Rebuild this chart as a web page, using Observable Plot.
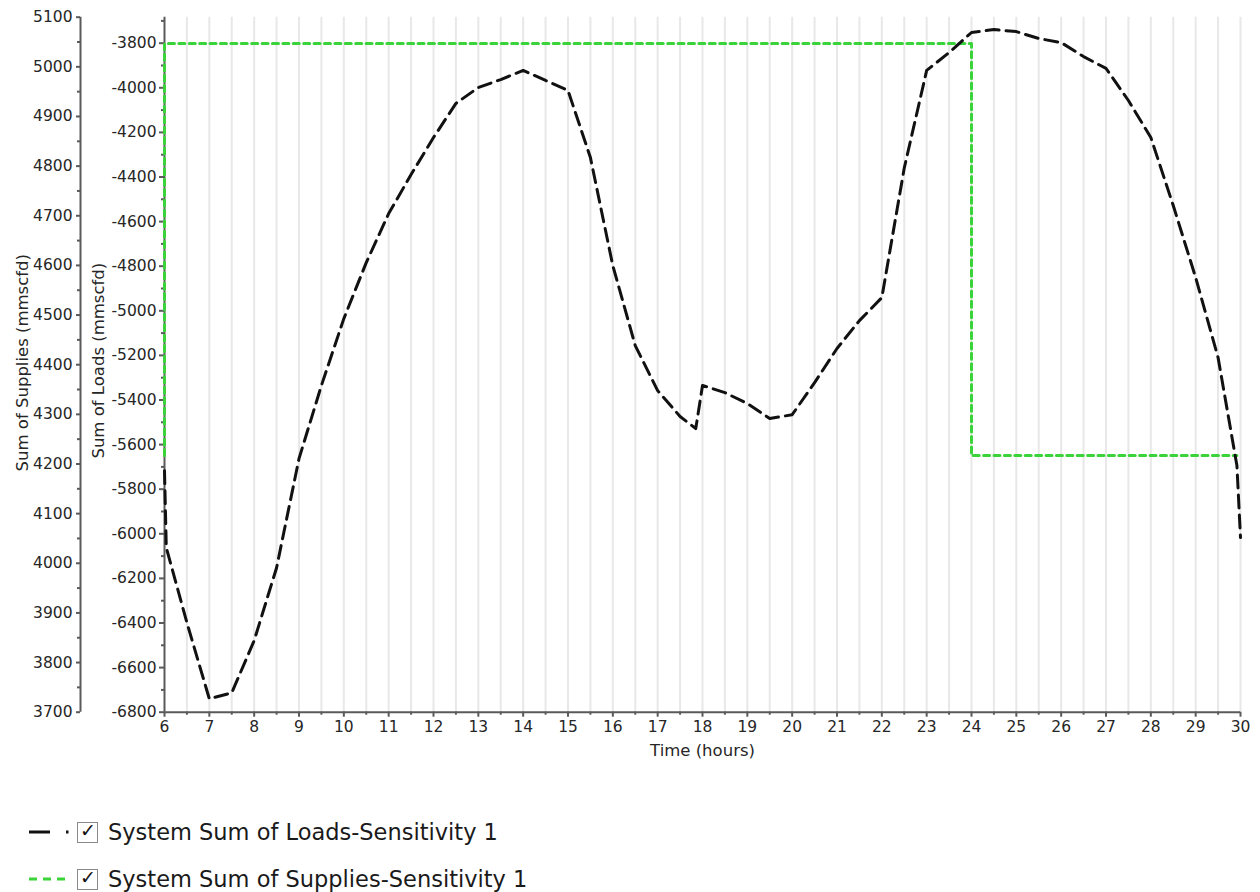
<!DOCTYPE html>
<html>
<head>
<meta charset="utf-8">
<script src="https://cdn.jsdelivr.net/npm/d3@7"></script>
<script src="https://cdn.jsdelivr.net/npm/@observablehq/plot@0.6"></script>
<style>
  html, body { margin: 0; padding: 0; background: #fff; }
  body { width: 1260px; height: 892px; position: relative; overflow: hidden; font-family: "DejaVu Sans", sans-serif; }
  #chart { position: absolute; left: 0; top: 0; }
  .leg { position: absolute; left: 0; height: 30px; display: flex; align-items: center; font-size: 22.5px; color: #1a1a1a; white-space: nowrap; }
  .leg svg { margin-left: 29px; }
  .box { width: 19px; height: 19px; border: 1px solid #8a8a8a; margin-left: 8px; margin-right: 10px; position: relative; box-sizing: content-box; background: #fff; }
  .box span { position: absolute; left: 2px; top: -4px; font-size: 19px; font-weight: bold; color: #111; }
</style>
</head>
<body>
<div id="chart"></div>
<div class="leg" style="top:817px">
  <svg width="40" height="10"><line x1="0" y1="5" x2="21" y2="5" stroke="#111" stroke-width="3"/><line x1="37" y1="5" x2="39.5" y2="5" stroke="#111" stroke-width="3"/></svg>
  <div class="box"><span>✓</span></div>
  <div>System Sum of Loads-Sensitivity 1</div>
</div>
<div class="leg" style="top:864px">
  <svg width="40" height="10"><line x1="0" y1="5" x2="37" y2="5" stroke="#3ad43a" stroke-width="3" stroke-dasharray="8,6"/></svg>
  <div class="box"><span>✓</span></div>
  <div>System Sum of Supplies-Sensitivity 1</div>
</div>
<script>
// ---- data ----
const loadHours = [6, 6.04, 6.5, 7, 7.5, 8, 8.5, 9, 9.5, 10, 10.5, 11, 11.5, 12, 12.5, 13, 13.5, 14, 14.5, 15,
  15.5, 16, 16.5, 17, 17.5, 17.85, 18, 18.5, 19, 19.5, 20, 20.5, 21, 21.5, 22, 22.5, 23, 23.5, 24, 24.5,
  25, 25.5, 26, 26.5, 27, 27.5, 28, 28.5, 29, 29.5, 29.92, 30];
const loadValues = [-5717, -6062, -6399, -6740, -6713, -6479, -6152, -5663, -5335, -5035, -4784, -4564, -4389, -4223, -4070, -3999, -3963, -3922, -3967, -4012,
  -4313, -4798, -5156, -5358, -5474, -5528, -5335, -5367, -5416, -5483, -5466, -5322, -5169, -5044, -4941, -4360, -3922, -3842, -3752, -3739,
  -3748, -3779, -3797, -3860, -3913, -4057, -4223, -4528, -4851, -5210, -5694, -6017];
const supplyHours = [6, 6, 24, 24, 29.92];
const supplyValues = [4217, 5047, 5047, 4217, 4217];

const xTicks = [6, 7, 8, 9, 10, 11, 12, 13, 14, 15, 16, 17, 18, 19, 20, 21, 22, 23, 24, 25, 26, 27, 28, 29, 30];
const xMinorTicks = [6.5, 7.5, 8.5, 9.5, 10.5, 11.5, 12.5, 13.5, 14.5, 15.5, 16.5, 17.5, 18.5, 19.5, 20.5, 21.5, 22.5, 23.5, 24.5, 25.5, 26.5, 27.5, 28.5, 29.5];
const gridHours = xTicks.concat(xMinorTicks).filter(d => d > 6);
const loadTicks = [-6800, -6600, -6400, -6200, -6000, -5800, -5600, -5400, -5200, -5000, -4800, -4600, -4400, -4200, -4000, -3800];
const loadMinorTicks = [-6700, -6500, -6300, -6100, -5900, -5700, -5500, -5300, -5100, -4900, -4700, -4500, -4300, -4100, -3900, -3700];
const supplyTicks = [3700, 3800, 3900, 4000, 4100, 4200, 4300, 4400, 4500, 4600, 4700, 4800, 4900, 5000, 5100];
const supplyMinorTicks = [3750, 3850, 3950, 4050, 4150, 4250, 4350, 4450, 4550, 4650, 4750, 4850, 4950, 5050];

const loadDomain = [-6800, -3683.4];
const supplyDomain = [3700, 5100];
// map the secondary (supplies) axis onto the primary (loads) scale
const s2l = d3.scaleLinear().domain(supplyDomain).range(loadDomain);

const loads = loadHours.map((h, i) => ({hour: h, value: loadValues[i]}));
const supplies = supplyHours.map((h, i) => ({hour: h, value: s2l(supplyValues[i])}));

const axisColor = "#5a5a5a";
const textColor = "#262626";
const supplyOffset = -84;

const chart = Plot.plot({
  width: 1260,
  height: 770,
  marginLeft: 164,
  marginRight: 20,
  marginTop: 16.7,
  marginBottom: 58.3,
  style: {fontFamily: "DejaVu Sans, sans-serif", fontSize: "15.5px", color: textColor, background: "#fff"},
  x: {domain: [6, 30], label: null},
  y: {domain: loadDomain, label: null},
  marks: [
    Plot.ruleX(gridHours, {stroke: "#e8e8e8", strokeWidth: 2}),
    // x axis
    Plot.axisX(xTicks, {tickSize: 5, tickPadding: 4, stroke: axisColor, strokeWidth: 2, fill: textColor, label: null, tickFormat: d => String(d)}),
    Plot.axisX(xMinorTicks, {tickSize: 3, stroke: axisColor, strokeWidth: 2, tickFormat: () => "", label: null}),
    // loads axis (inner)
    Plot.axisY(loadTicks, {tickSize: 5, tickPadding: 3, stroke: axisColor, strokeWidth: 2, fill: textColor, label: null, tickFormat: d => String(d)}),
    Plot.axisY(loadMinorTicks, {tickSize: 3, stroke: axisColor, strokeWidth: 2, tickFormat: () => "", label: null}),
    // supplies axis (outer)
    Plot.axisY(supplyTicks.map(s2l), {dx: supplyOffset, tickSize: 4, tickPadding: 4, stroke: axisColor, strokeWidth: 2, fill: textColor, label: null,
      tickFormat: d => String(Math.round(s2l.invert(d)))}),
    Plot.axisY(supplyMinorTicks.map(s2l), {dx: supplyOffset, tickSize: 3, stroke: axisColor, strokeWidth: 2, tickFormat: () => "", label: null}),
    // axis lines
    Plot.ruleX([6], {stroke: axisColor, strokeWidth: 2}),
    Plot.ruleX([6], {dx: supplyOffset, stroke: axisColor, strokeWidth: 2}),
    Plot.ruleY([loadDomain[0]], {x1: 6, x2: 30, stroke: axisColor, strokeWidth: 2}),
    // series
    Plot.line(supplies, {x: "hour", y: "value", stroke: "#3ad43a", strokeWidth: 3, strokeDasharray: "6,4.4"}),
    Plot.line(loads, {x: "hour", y: "value", stroke: "#111", strokeWidth: 3, strokeDasharray: "13,7"}),
    // axis titles
    Plot.text(["Sum of Loads (mmscfd)"], {frameAnchor: "left", textAnchor: "middle", lineAnchor: "middle", rotate: -90, dx: -66, dy: -4, fontSize: 16.5, fill: textColor}),
    Plot.text(["Sum of Supplies (mmscfd)"], {frameAnchor: "left", textAnchor: "middle", lineAnchor: "middle", rotate: -90, dx: -142, dy: -2, fontSize: 16.5, fill: textColor}),
    Plot.text(["Time (hours)"], {frameAnchor: "bottom", lineAnchor: "middle", dy: 38.5, fontSize: 16.5, fill: textColor})
  ]
});
document.getElementById("chart").appendChild(chart);
</script>
</body>
</html>
